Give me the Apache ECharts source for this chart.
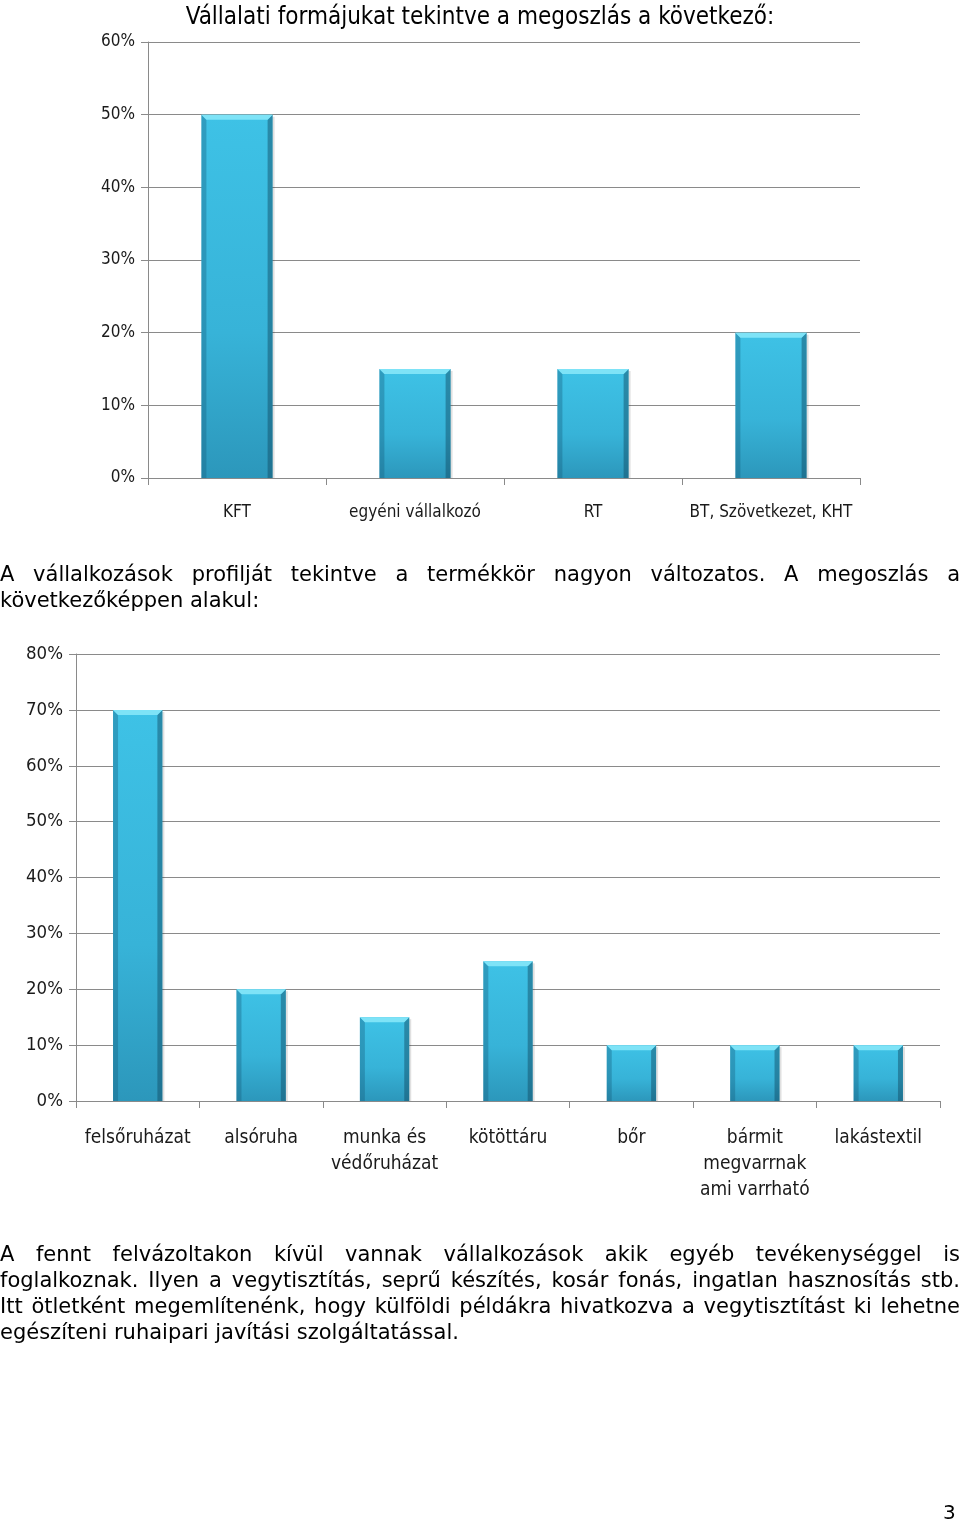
<!DOCTYPE html>
<html>
<head>
<meta charset="utf-8">
<script src="https://cdn.jsdelivr.net/npm/echarts@6/dist/echarts.min.js"></script>
<style>
  html, body { margin: 0; padding: 0; background: #fff; }
  #page { position: relative; width: 960px; height: 1525px; overflow: hidden; }
  #chart { position: absolute; left: 0; top: 0; width: 960px; height: 1525px; }
  .para { position: absolute; left: 0; width: 960px; font-family: 'DejaVu Sans', Verdana, sans-serif; font-size: 21px; line-height: 26px; color: #000; }
  .para div { white-space: nowrap; }
  .para .j { text-align: justify; text-align-last: justify; }
  #pnum { position: absolute; left: 943px; top: 1500px; font-family: 'DejaVu Sans', sans-serif; font-size: 20px; color: #000; }
</style>
</head>
<body>
<div id="page">
  <div id="chart"></div>
  <div class="para" style="top:561px;">
    <div class="j">A vállalkozások profilját tekintve a termékkör nagyon változatos. A megoszlás a</div>
    <div>következőképpen alakul:</div>
  </div>
  <div class="para" style="top:1241px;">
    <div class="j">A fennt felvázoltakon kívül vannak vállalkozások akik egyéb tevékenységgel is</div>
    <div class="j">foglalkoznak. Ilyen a vegytisztítás, seprű készítés, kosár fonás, ingatlan hasznosítás stb.</div>
    <div class="j">Itt ötletként megemlítenénk, hogy külföldi példákra hivatkozva a vegytisztítást ki lehetne</div>
    <div>egészíteni ruhaipari javítási szolgáltatással.</div>
  </div>
  <div id="pnum">3</div>
</div>
<script>
// ---- data ----
const title1 = 'Vállalati formájukat tekintve a megoszlás a következő:';
const categories1 = ['KFT', 'egyéni vállalkozó', 'RT', 'BT, Szövetkezet, KHT'];
const values1 = [50, 15, 15, 20];
const ticks1 = { min: 0, max: 60, interval: 10 };

const categories2 = ['felsőruházat', 'alsóruha', 'munka és\nvédőruházat', 'kötöttáru', 'bőr', 'bármit\nmegvarrnak\nami varrható', 'lakástextil'];
const values2 = [70, 20, 15, 25, 10, 10, 10];
const ticks2 = { min: 0, max: 80, interval: 10 };

// ---- styles ----
const labelFont = "'Liberation Sans Narrow', 'DejaVu Sans Condensed', 'Open Sans', sans-serif";
const axisGray = '#8a8a8a';

function xAxis(gridIndex, data, margin, fontSize) {
  return {
    type: 'category', gridIndex, data,
    axisLine: { lineStyle: { color: axisGray } },
    axisTick: { show: true, length: 7, lineStyle: { color: axisGray } },
    axisLabel: { color: '#1a1a1a', fontFamily: labelFont, fontSize, margin, lineHeight: 26, interval: 0 }
  };
}
function yAxis(gridIndex, t, fontSize) {
  return {
    type: 'value', gridIndex, min: t.min, max: t.max, interval: t.interval,
    axisLine: { show: true, lineStyle: { color: axisGray } },
    axisTick: { show: true, length: 7, lineStyle: { color: axisGray } },
    splitLine: { lineStyle: { color: axisGray, width: 1 } },
    axisLabel: { color: '#1a1a1a', fontFamily: labelFont, fontSize, margin: 13, formatter: '{value}%' }
  };
}

function bevelBar(params, api) {
  const xi = api.value(0), v = api.value(1);
  const top = api.coord([xi, v]);
  const base = api.coord([xi, 0]);
  const w = api.size([1, 0])[0] * 0.4;
  const l = top[0] - w / 2, r = top[0] + w / 2;
  const t = top[1], b = base[1];
  const h = b - t;
  const bv = 5;
  return {
    type: 'group',
    children: [
      { type: 'rect', shape: { x: l, y: t, width: w, height: h },
        style: { fill: new echarts.graphic.LinearGradient(0, 0, 0, 1, [
          { offset: 0, color: '#3ec2e6' }, { offset: 0.6, color: '#37b3d8' }, { offset: 1, color: '#2c97bb' }]) } },
      { type: 'polygon', shape: { points: [[l, t], [l + bv, t + bv], [l + bv, b], [l, b]] },
        style: { fill: 'rgba(20,90,120,0.35)' } },
      { type: 'polygon', shape: { points: [[r, t], [r - bv, t + bv], [r - bv, b], [r, b]] },
        style: { fill: 'rgba(15,70,95,0.45)' } },
      { type: 'polygon', shape: { points: [[l, t], [r, t], [r - bv, t + bv], [l + bv, t + bv]] },
        style: { fill: '#7ee3f7' } },
      { type: 'rect', shape: { x: r, y: t + 2, width: 2, height: h - 2 },
        style: { fill: 'rgba(0,0,0,0.12)' } }
    ]
  };
}

const chart = echarts.init(document.getElementById('chart'), null, { renderer: 'canvas' });
chart.setOption({
  animation: false,
  title: {
    text: title1, left: 'center', top: 1,
    textStyle: { fontFamily: labelFont, fontSize: 24, fontWeight: 'normal', color: '#000' }
  },
  grid: [
    { left: 148, top: 42, width: 712, height: 436 },
    { left: 76, top: 654, width: 864, height: 447 }
  ],
  xAxis: [xAxis(0, categories1, 22, 17), xAxis(1, categories2, 24, 19)],
  yAxis: [yAxis(0, ticks1, 17), yAxis(1, ticks2, 18.5)],
  series: [
    { type: 'custom', xAxisIndex: 0, yAxisIndex: 0, renderItem: bevelBar,
      encode: { x: 0, y: 1 }, data: values1.map((v, i) => [i, v]) },
    { type: 'custom', xAxisIndex: 1, yAxisIndex: 1, renderItem: bevelBar,
      encode: { x: 0, y: 1 }, data: values2.map((v, i) => [i, v]) }
  ]
});
</script>
</body>
</html>
